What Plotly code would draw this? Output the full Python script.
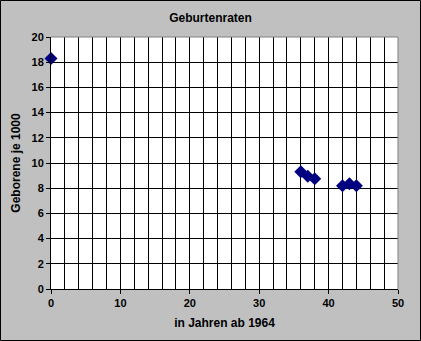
import plotly.graph_objects as go

years = [0, 36, 37, 38, 42, 43, 44]
rates = [18.3, 9.3, 8.95, 8.75, 8.2, 8.35, 8.2]

title = "Geburtenraten"
xtitle = "in Jahren ab 1964"
ytitle = "Geborene je 1000"

W, H = 421, 341
ml, mr, mt, mb = 51, 23, 37, 52
pw, ph = W - ml - mr, H - mt - mb

font = dict(family="Liberation Sans, Arial, sans-serif", size=11, color="black")

fig = go.Figure(go.Scatter(
    x=years, y=rates, mode="markers",
    marker=dict(symbol="diamond", size=10, color="#000080", line=dict(width=0)),
    cliponaxis=False,
))

fig.update_layout(
    width=W, height=H,
    margin=dict(l=ml, r=mr, t=mt, b=mb, pad=0),
    paper_bgcolor="#c0c0c0", plot_bgcolor="white",
    font=font, showlegend=False,
    title=dict(text="<b>" + title + "</b>", x=0.5, xanchor="center", y=1 - 18 / H, yanchor="middle",
               font=dict(size=12)),
    shapes=[
        dict(type="line", xref="paper", yref="paper", x0=0, x1=1, y0=1, y1=1,
             line=dict(color="#808080", width=1), layer="above"),
        dict(type="line", xref="paper", yref="paper", x0=1, x1=1, y0=0, y1=1,
             line=dict(color="#808080", width=1), layer="above"),
        dict(type="rect", xref="paper", yref="paper",
             x0=(-ml + 0.5) / pw, x1=1 + (mr - 0.5) / pw,
             y0=(-mb + 0.5) / ph, y1=1 + (mt - 0.5) / ph,
             line=dict(color="black", width=1), layer="above"),
    ],
)

fig.update_xaxes(
    range=[0, 50], dtick=10, tick0=0,
    showgrid=True, gridcolor="black", gridwidth=1,
    minor=dict(dtick=2, showgrid=True, gridcolor="black", gridwidth=1, ticks=""),
    showline=True, linecolor="black", linewidth=1,
    ticks="outside", ticklen=4, tickcolor="black",
    tickfont=dict(size=11), zeroline=False,
    title=dict(text="<b>" + xtitle + "</b>", font=dict(size=12), standoff=10),
    tickprefix="<b>", ticksuffix="</b>",
)
fig.update_yaxes(
    range=[0, 20], dtick=2, tick0=0,
    showgrid=True, gridcolor="black", gridwidth=1,
    showline=True, linecolor="black", linewidth=1,
    ticks="outside", ticklen=4, tickcolor="black",
    tickfont=dict(size=11), zeroline=False,
    title=dict(text="<b>" + ytitle + "</b>", font=dict(size=12), standoff=8),
    tickprefix="<b>", ticksuffix="</b>",
)

fig.write_html("out.html")
